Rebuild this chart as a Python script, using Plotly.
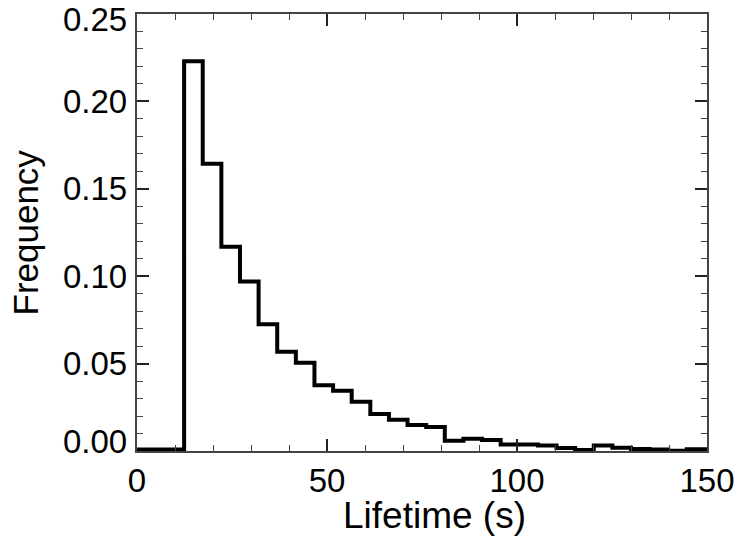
import plotly.graph_objects as go

# Histogram bin left edges (s) and frequencies
bin_left = [0.0, 12.4, 17.3, 22.2, 27.1, 32.0, 36.9, 41.8, 46.7, 51.6, 56.5,
            61.4, 66.3, 71.2, 76.1, 81.0, 85.9, 90.8, 95.7, 100.6, 105.5,
            110.4, 115.3, 120.2, 125.1, 130.0, 134.9, 139.8, 144.7]
bin_end = 150.0
freq = [0.0008, 0.223, 0.1644, 0.1168, 0.0970, 0.0725, 0.0568, 0.0505, 0.0376,
        0.0345, 0.0282, 0.0212, 0.0179, 0.0149, 0.0138, 0.0059, 0.0070, 0.0063,
        0.0037, 0.0037, 0.0031, 0.0017, 0.0006, 0.0031, 0.0019, 0.0011, 0.0009,
        0.0002, 0.0010]

x_ticks = [0, 50, 100, 150]
y_ticks = [0.00, 0.05, 0.10, 0.15, 0.20, 0.25]
y_labels = ["0.00", "0.05", "0.10", "0.15", "0.20", "0.25"]

xs = bin_left + [bin_end]
ys = freq + [freq[-1]]

FONT = "Liberation Sans, Arial, sans-serif"

fig = go.Figure()
fig.add_trace(go.Scatter(x=xs, y=ys, mode="lines", line_shape="hv",
                         line=dict(color="black", width=4), showlegend=False,
                         hoverinfo="skip"))

axis_common = dict(showgrid=False, zeroline=False, showline=True, linecolor="#444",
                   linewidth=1.5, mirror="ticks", ticks="inside", tickcolor="#222",
                   tickwidth=1.5, ticklen=12,
                   tickfont=dict(family=FONT, size=33, color="black"))

fig.update_xaxes(range=[0, 150], tickvals=x_ticks, ticktext=[str(v) for v in x_ticks],
                 minor=dict(dtick=10, ticks="inside", ticklen=6, tickcolor="#444", tickwidth=1.2),
                 **axis_common)
fig.update_yaxes(range=[0, 0.25], tickvals=y_ticks, ticktext=y_labels, showticklabels=False,
                 minor=dict(dtick=0.01, ticks="inside", ticklen=6, tickcolor="#444", tickwidth=1.2),
                 **axis_common)

# y tick labels as annotations (end labels nudged inward as in the reference)
for v, lab in zip(y_ticks, y_labels):
    shift = 0
    if v == y_ticks[0]:
        shift = 10
    elif v == y_ticks[-1]:
        shift = -5
    fig.add_annotation(x=0, xref="paper", y=v, yref="y", text=lab, showarrow=False,
                       xanchor="right", yanchor="middle", xshift=-8, yshift=shift,
                       font=dict(family=FONT, size=33, color="black"))

fig.add_annotation(x=0, xref="paper", y=0.5, yref="paper", text="Frequency",
                   showarrow=False, textangle=-90, xanchor="center", yanchor="middle",
                   xshift=-112, font=dict(family=FONT, size=35, color="black"))

fig.add_annotation(x=0.5, xref="paper", y=0, yref="paper", text="Lifetime (s)",
                   showarrow=False, xanchor="center", yanchor="middle",
                   xshift=12, yshift=-64, font=dict(family=FONT, size=37, color="black"))

fig.update_layout(width=747, height=537, autosize=False,
                  margin=dict(l=137, r=32, t=13, b=86),
                  paper_bgcolor="white", plot_bgcolor="white")

fig.write_html("out.html")
